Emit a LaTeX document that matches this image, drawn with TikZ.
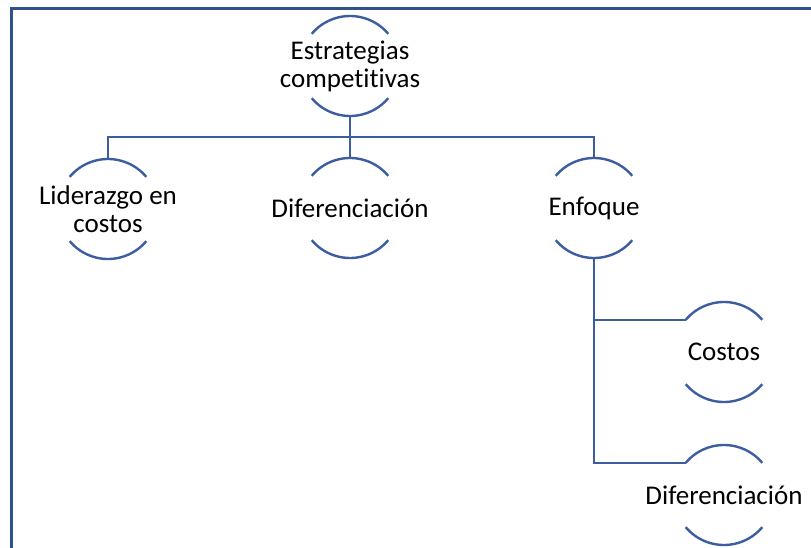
\documentclass[tikz,border=0pt]{standalone}
\usepackage{fontspec}
\setmainfont{Carlito}[Ligatures=NoCommon]
\definecolor{arcblue}{RGB}{60,94,160}
\definecolor{frameblue}{RGB}{47,82,143}
\tikzset{
	x=1pt,y=1pt,
	txt/.style={align=center,inner sep=0pt,font=\fontsize{27}{28}\selectfont},
	arcline/.style={draw=arcblue,line width=2.4pt},
	link/.style={draw=arcblue,line width=2.4pt}
}
% top and bottom arcs round a label
\newcommand{\arcpair}[1]{
	\draw[arcline] ([shift={(140:50)}]#1.center) arc (140:40:50);
	\draw[arcline] ([shift={(220:50)}]#1.center) arc (220:320:50);
	\coordinate (#1-top) at ([yshift=50]#1.center);
	\coordinate (#1-bot) at ([yshift=-50]#1.center);
	\coordinate (#1-nw) at ([shift={(140:50)}]#1.center);
}
\begin{document}
\begin{tikzpicture}
		\useasboundingbox (0,0) rectangle (811,-548);
		\draw[draw=frameblue,line width=3pt] (11.5,-560) -- (11.5,-8.5) -- (830,-8.5);
		
		\node [txt] (top) at (350,-66) {Estrategias\\competitivas};
		\node [txt] (lid) at (108,-209) {Liderazgo en\\costos};
		\node [txt] (dif) at (350,-208) {Diferenciación};
		\node [txt] (enf) at (594,-208) {Enfoque};
		\node [txt] (cos) at (724,-352) {Costos};
		\node [txt] (dif2) at (724,-495) {Diferenciación};
		
		\arcpair{top}
		\arcpair{lid}
		\arcpair{dif}
		\arcpair{enf}
		\arcpair{cos}
		\arcpair{dif2}
		
		\draw [link] (top-bot) -- ++(0,-21) -| (lid-top);
		\draw [link] (top-bot) -- ++(0,-21) -| (dif-top);
		\draw [link] (top-bot) -- ++(0,-21) -| (enf-top);
		\draw [link] (enf-bot) |- (cos-nw);
		\draw [link] (enf-bot) |- (dif2-nw);
\end{tikzpicture}
\end{document}
